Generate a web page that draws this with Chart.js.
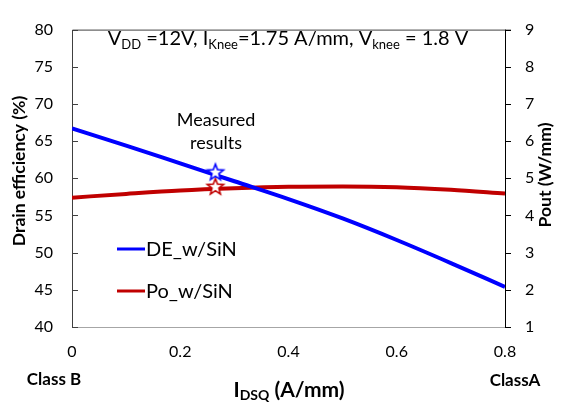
<!DOCTYPE html>
<html>
<head>
<meta charset="utf-8">
<script src="https://cdn.jsdelivr.net/npm/chart.js@4.4.1/dist/chart.umd.min.js"></script>
<style>
  html, body { margin: 0; padding: 0; background: #fff; }
  #wrap { width: 562px; height: 405px; }
</style>
</head>
<body>
<div id="wrap"><canvas id="chart"></canvas></div>
<script>
// values
const idsq = [0, 0.1, 0.2, 0.3, 0.4, 0.5, 0.6, 0.7, 0.8];
const drainEff = [66.7, 64.4, 62.0, 59.6, 57.2, 54.6, 51.7, 48.6, 45.4];
const pout = [4.48, 4.58, 4.67, 4.73, 4.77, 4.78, 4.76, 4.69, 4.59];
const measuredIdsq = [0.265];
const measuredDE = [60.9];
const measuredPout = [4.79];
const effTicks = [40, 45, 50, 55, 60, 65, 70, 75, 80];
const poutTicks = [1, 2, 3, 4, 5, 6, 7, 8, 9];
const xTicks = [0, 0.2, 0.4, 0.6, 0.8];

const FONT = "Lato, 'Noto Sans', sans-serif";
const BLUE = "#0000ff";
const RED = "#c00000";

const makeStar = (color) => {
  const size = 22;
  const c = document.createElement("canvas");
  c.width = size;
  c.height = size;
  const ctx = c.getContext("2d");
  const cx = size / 2, cy = size / 2 + 1;
  ctx.beginPath();
  for (let i = 0; i < 10; i++) {
    const r = i % 2 ? 3.6 : 8.5;
    const a = -Math.PI / 2 + (i * Math.PI) / 5;
    ctx.lineTo(cx + r * Math.cos(a), cy + r * Math.sin(a));
  }
  ctx.closePath();
  ctx.fillStyle = "#fff";
  ctx.fill();
  ctx.lineWidth = 1.6;
  ctx.strokeStyle = color;
  ctx.stroke();
  return c;
};

// text with subscripts: parts = [[text, isSub], ...]
const richWidth = (ctx, parts, size, weight) =>
  parts.reduce((w, [t, sub]) => {
    ctx.font = `${weight} ${sub ? Math.round(size * 0.65) : size}px ${FONT}`;
    return w + ctx.measureText(t).width;
  }, 0);

const drawRich = (ctx, parts, cx, baseline, size, weight, subDrop = 0.22) => {
  let x = cx - richWidth(ctx, parts, size, weight) / 2;
  ctx.textAlign = "left";
  ctx.textBaseline = "alphabetic";
  parts.forEach(([t, sub]) => {
    ctx.font = `${weight} ${sub ? Math.round(size * 0.65) : size}px ${FONT}`;
    ctx.fillText(t, x, baseline + (sub ? size * subDrop : 0));
    x += ctx.measureText(t).width;
  });
};

const decorPlugin = {
  id: "decor",
  beforeDatasetsDraw(chart) {
    const { ctx, chartArea: a, scales } = chart;
    ctx.save();
    // frame
    ctx.lineWidth = 1;
    ctx.strokeStyle = "#a6a6a6";
    ctx.beginPath();
    ctx.moveTo(a.left, a.bottom + 0.5);
    ctx.lineTo(a.right, a.bottom + 0.5);
    ctx.stroke();
    ctx.strokeStyle = "#404040";
    ctx.beginPath();
    ctx.moveTo(a.left + 0.5, a.bottom);
    ctx.lineTo(a.left + 0.5, a.top + 0.5);
    ctx.lineTo(a.right + 6, a.top + 0.5);
    ctx.stroke();
    ctx.strokeStyle = "#000";
    ctx.beginPath();
    ctx.moveTo(a.right + 0.5, a.top);
    ctx.lineTo(a.right + 0.5, a.bottom + 1);
    ctx.stroke();
    // tick marks: inside on the left, outside on the right
    ctx.strokeStyle = "#404040";
    effTicks.forEach((v) => {
      const y = Math.round(scales.y.getPixelForValue(v)) + 0.5;
      ctx.beginPath();
      ctx.moveTo(a.left, y);
      ctx.lineTo(a.left + 6, y);
      ctx.stroke();
    });
    ctx.strokeStyle = "#000";
    poutTicks.forEach((v) => {
      const y = Math.round(scales.y2.getPixelForValue(v)) + 0.5;
      ctx.beginPath();
      ctx.moveTo(a.right, y);
      ctx.lineTo(a.right + 6, y);
      ctx.stroke();
    });
    ctx.restore();
  },
  afterDraw(chart) {
    const { ctx } = chart;
    ctx.save();
    ctx.fillStyle = "#000";

    const titleParts = [["V", false], ["DD", true], [" =12V, I", false], ["Knee", true],
      ["=1.75 A/mm, V", false], ["knee", true], [" = 1.8 V", false]];
    const titleSize = Math.min(20, (17 * 361) / richWidth(ctx, titleParts, 17, "normal"));
    drawRich(ctx, titleParts, 288, 45, titleSize, "normal");

    ctx.font = `18px ${FONT}`;
    ctx.textAlign = "center";
    ctx.textBaseline = "middle";
    ctx.fillText("Measured", 216, 120);
    ctx.fillText("results", 216, 143);

    // legend inside the plot
    const legendY = [249, 291];
    chart.data.datasets.slice(0, 2).forEach((ds, i) => {
      ctx.strokeStyle = ds.borderColor;
      ctx.lineWidth = 3;
      ctx.beginPath();
      ctx.moveTo(117, legendY[i]);
      ctx.lineTo(145, legendY[i]);
      ctx.stroke();
      ctx.font = `20px ${FONT}`;
      ctx.textAlign = "left";
      ctx.textBaseline = "middle";
      ctx.fillText(ds.label, 146, legendY[i] + 1);
    });

    // axis titles
    ctx.font = `bold 17.5px ${FONT}`;
    ctx.textAlign = "center";
    ctx.textBaseline = "middle";
    ctx.save();
    ctx.translate(19, 171);
    ctx.rotate(-Math.PI / 2);
    ctx.fillText("Drain efficiency (%)", 0, 0);
    ctx.restore();
    ctx.save();
    ctx.translate(545, 175);
    ctx.rotate(-Math.PI / 2);
    ctx.fillText("Pout (W/mm)", 0, 0);
    ctx.restore();

    ctx.font = `bold 17px ${FONT}`;
    ctx.fillText("Class B", 54, 380);
    ctx.fillText("ClassA", 515, 381);

    drawRich(ctx, [["I", false], ["DSQ", true], [" (A/mm)", false]], 289, 397, 21, "bold", 0.16);
    ctx.restore();
  },
};

new Chart(document.getElementById("chart"), {
  type: "scatter",
  data: {
    datasets: [
      {
        label: "DE_w/SiN",
        data: idsq.map((x, i) => ({ x, y: drainEff[i] })),
        yAxisID: "y",
        showLine: true,
        borderColor: BLUE,
        borderWidth: 4,
        pointRadius: 0,
        cubicInterpolationMode: "monotone",
        order: 2,
      },
      {
        label: "Po_w/SiN",
        data: idsq.map((x, i) => ({ x, y: pout[i] })),
        yAxisID: "y2",
        showLine: true,
        borderColor: RED,
        borderWidth: 4,
        pointRadius: 0,
        cubicInterpolationMode: "monotone",
        order: 3,
      },
      {
        label: "Measured DE",
        data: measuredIdsq.map((x, i) => ({ x, y: measuredDE[i] })),
        yAxisID: "y",
        pointStyle: makeStar(BLUE),
        pointRadius: 8,
        order: 0,
      },
      {
        label: "Measured Pout",
        data: measuredIdsq.map((x, i) => ({ x, y: measuredPout[i] })),
        yAxisID: "y2",
        pointStyle: makeStar(RED),
        pointRadius: 8,
        order: 1,
      },
    ],
  },
  options: {
    responsive: true,
    maintainAspectRatio: false,
    animation: false,
    layout: { padding: { top: 14, left: 0, right: 0, bottom: 0 } },
    plugins: { legend: { display: false }, tooltip: { enabled: false } },
    scales: {
      x: {
        type: "linear",
        min: 0,
        max: 0.8,
        afterBuildTicks: (s) => { s.ticks = xTicks.map((value) => ({ value })); },
        afterFit: (s) => { s.height = 78; },
        grid: { display: false, drawTicks: false },
        border: { display: false },
        ticks: {
          padding: 15,
          color: "#000",
          font: { family: FONT, size: 16 },
          callback: (v) => String(v),
        },
      },
      y: {
        position: "left",
        min: 40,
        max: 80,
        afterBuildTicks: (s) => { s.ticks = effTicks.map((value) => ({ value })); },
        afterFit: (s) => { s.width = 72; },
        grid: { display: false, drawTicks: false },
        border: { display: false },
        ticks: { padding: 19, color: "#000", font: { family: FONT, size: 16 } },
      },
      y2: {
        position: "right",
        min: 1,
        max: 9,
        afterBuildTicks: (s) => { s.ticks = poutTicks.map((value) => ({ value })); },
        afterFit: (s) => { s.width = 57; },
        grid: { display: false, drawTicks: false },
        border: { display: false },
        ticks: { padding: 20, color: "#000", font: { family: FONT, size: 16 } },
      },
    },
  },
  plugins: [decorPlugin],
});
</script>
</body>
</html>
